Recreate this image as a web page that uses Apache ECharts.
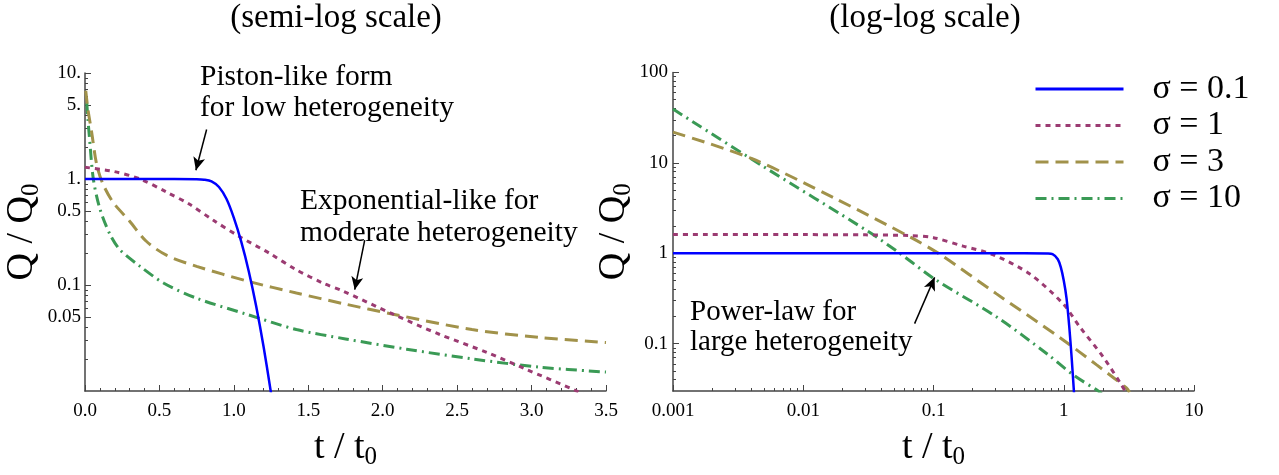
<!DOCTYPE html>
<html><head><meta charset="utf-8">
<script src="https://cdn.jsdelivr.net/npm/echarts@6/dist/echarts.min.js"></script>
<style>html,body{margin:0;padding:0;background:#fff}#c{width:1279px;height:475px}</style>
</head><body><div id="c"></div>
<script>
const FONT = '"Liberation Serif", "Times New Roman", serif';
const seriesNames = ['σ = 0.1', 'σ = 1', 'σ = 3', 'σ = 10'];
const seriesColors = ['#0000ff', '#9b3b72', '#a1924a', '#3a9a55'];

// Left panel (semi-log): [t/t0, Q/Q0]
const leftS01 = [[0,1.0],[0.3,1.0],[0.6,1.0],[0.75,0.995],[0.8,0.985],[0.85,0.95],[0.9,0.84],[0.95,0.65],[1.0,0.43],[1.05,0.255],[1.1,0.135],[1.15,0.063],[1.2,0.026],[1.25,0.0095]];
const leftS1 = [[0,1.29],[0.19,1.18],[0.37,1.0],[0.55,0.75],[0.7,0.58],[0.86,0.41],[1.04,0.285],[1.24,0.199],[1.42,0.139],[1.6,0.104],[1.73,0.088],[2.07,0.053],[2.38,0.0343],[2.7,0.0231],[2.96,0.0161],[3.29,0.0102],[3.35,0.0093]];
const leftS3 = [[0.005,6.8],[0.02,4.5],[0.045,2.75],[0.078,1.38],[0.12,0.9],[0.19,0.6],[0.3,0.4],[0.41,0.26],[0.55,0.19],[0.75,0.15],[1.1,0.108],[1.42,0.084],[1.75,0.066],[2.07,0.053],[2.6,0.038],[3.05,0.032],[3.5,0.0287]];
const leftS10 = [[0.012,5.2],[0.02,3.6],[0.029,2.55],[0.056,1.0],[0.1,0.525],[0.168,0.3],[0.235,0.215],[0.37,0.15],[0.53,0.104],[0.75,0.075],[1.085,0.053],[1.42,0.038],[1.75,0.031],[2.16,0.0248],[2.61,0.020],[3.05,0.0168],[3.5,0.0151]];

// Right panel (log-log): [t/t0, Q/Q0]
const rightS01 = [[0.001,1],[0.1,1],[0.5,1],[0.75,0.995],[0.82,0.98],[0.9,0.86],[0.95,0.7],[1.0,0.5],[1.05,0.32],[1.1,0.16],[1.15,0.07],[1.2,0.028]];
const rightS1 = [[0.001,1.61],[0.01,1.61],[0.03,1.6],[0.066,1.57],[0.1,1.49],[0.169,1.2],[0.285,0.97],[0.55,0.589],[0.99,0.276],[1.33,0.153],[2.0,0.072],[2.77,0.0352],[3.0,0.029]];
const rightS3 = [[0.001,21.9],[0.004,11.2],[0.0174,4.07],[0.0675,1.49],[0.112,0.975],[0.305,0.356],[0.99,0.11],[1.79,0.0583],[3.03,0.0324],[3.2,0.029]];
const rightS10 = [[0.001,39.4],[0.00476,9.44],[0.0314,1.75],[0.0565,0.975],[0.102,0.519],[0.305,0.198],[0.738,0.078],[1.18,0.0453],[1.84,0.03],[1.95,0.028]];

// Tick values and labels
const leftXTicks = [0,0.5,1,1.5,2,2.5,3,3.5];
const leftXLabels = ['0.0','0.5','1.0','1.5','2.0','2.5','3.0','3.5'];
const leftYTicks = [0.05,0.1,0.5,1,5,10];
const leftYLabels = ['0.05','0.1','0.5','1.','5.','10.'];
const leftYMinor = [0.02,0.03,0.04,0.06,0.07,0.08,0.09,0.2,0.3,0.4,0.6,0.7,0.8,0.9,2,3,4,6,7,8,9];
const rightXTicks = [0.001,0.01,0.1,1,10];
const rightXLabels = ['0.001','0.01','0.1','1','10'];
const rightXMinor = [0.002,0.003,0.004,0.005,0.006,0.007,0.008,0.009,0.02,0.03,0.04,0.05,0.06,0.07,0.08,0.09,0.2,0.3,0.4,0.5,0.6,0.7,0.8,0.9,2,3,4,5,6,7,8,9];
const rightYTicks = [0.1,1,10,100];
const rightYLabels = ['0.1','1','10','100'];
const rightYMinor = [0.04,0.05,0.06,0.07,0.08,0.09,0.2,0.3,0.4,0.5,0.6,0.7,0.8,0.9,2,3,4,5,6,7,8,9,20,30,40,50,60,70,80,90];

// Annotation arrows: [from, to] in data coordinates
const leftArrows = [[[0.817,2.93],[0.745,1.21]], [[1.879,0.265],[1.812,0.0903]]];
const rightArrows = [[[0.0716,0.167],[0.102,0.542]]];

const dashStyles = ['solid', [5,5], [13,7], [11,5,2,5]];
const lineWidths = [2.5, 3, 3, 3];

function lookup(ticks, labels) {
  return function (v) {
    for (let i = 0; i < ticks.length; i++) {
      if (ticks[i] === v || Math.abs(ticks[i] - v) <= 1e-6 * Math.abs(ticks[i])) return labels[i];
    }
    return '';
  };
}
const AX = '#444';
const labelStyle = {fontFamily: FONT, fontSize: 19, color: '#000'};
const nameRich = {
  m: {fontFamily: FONT, fontSize: 38, lineHeight: 44, color: '#000'},
  s: {fontFamily: FONT, fontSize: 25, lineHeight: 25, verticalAlign: 'bottom', color: '#000'}
};
function mainAxisBase() {
  return {
    axisLine: {show: true, lineStyle: {color: AX, width: 1.5}},
    splitLine: {show: false},
    axisTick: {show: true, inside: true, length: 6, lineStyle: {color: AX, width: 1}},
    axisLabel: Object.assign({}, labelStyle)
  };
}
function minorAxis(gridIndex, type, min, max, pos, vals) {
  return {
    gridIndex, type, min, max, position: pos, logBase: 10,
    axisLine: {show: false}, splitLine: {show: false},
    axisLabel: {show: false},
    axisTick: {show: true, inside: true, length: 3, customValues: vals, lineStyle: {color: AX, width: 1}}
  };
}

const xAxis = [
  Object.assign(mainAxisBase(), {
    gridIndex: 0, type: 'value', min: 0, max: 3.5, interval: 0.5, position: 'bottom',
    minorTick: {show: true, splitNumber: 5, length: 3, lineStyle: {color: AX, width: 1}},
    axisLabel: Object.assign({}, labelStyle, {margin: 11, formatter: lookup(leftXTicks, leftXLabels)}),
    name: '{m|t / t}{s|0}', nameLocation: 'middle', nameGap: 35, nameTextStyle: {rich: nameRich}
  }),
  Object.assign(mainAxisBase(), {
    gridIndex: 1, type: 'log', logBase: 10, min: 0.001, max: 10, position: 'bottom',
    axisTick: {show: true, inside: true, length: 6, customValues: rightXTicks, lineStyle: {color: AX, width: 1}},
    axisLabel: Object.assign({}, labelStyle, {margin: 11, customValues: rightXTicks, formatter: lookup(rightXTicks, rightXLabels)}),
    name: '{m|t / t}{s|0}', nameLocation: 'middle', nameGap: 35, nameTextStyle: {rich: nameRich}
  }),
  minorAxis(1, 'log', 0.001, 10, 'bottom', rightXMinor)
];
const yAxis = [
  Object.assign(mainAxisBase(), {
    gridIndex: 0, type: 'log', logBase: 10, min: 0.01, max: 10, position: 'left',
    axisTick: {show: true, inside: true, length: 6, customValues: leftYTicks, lineStyle: {color: AX, width: 1}},
    axisLabel: Object.assign({}, labelStyle, {margin: 4, customValues: leftYTicks, formatter: lookup(leftYTicks, leftYLabels)}),
    name: '{m|Q / Q}{s|0}', nameLocation: 'middle', nameGap: 30, nameRotate: 90, nameTextStyle: {rich: nameRich}
  }),
  minorAxis(0, 'log', 0.01, 10, 'left', leftYMinor),
  Object.assign(mainAxisBase(), {
    gridIndex: 1, type: 'log', logBase: 10, min: 0.03, max: 100, position: 'left',
    axisTick: {show: true, inside: true, length: 6, customValues: rightYTicks, lineStyle: {color: AX, width: 1}},
    axisLabel: Object.assign({}, labelStyle, {margin: 5, customValues: rightYTicks, formatter: lookup(rightYTicks, rightYLabels)}),
    name: '{m|Q / Q}{s|0}', nameLocation: 'middle', nameGap: 29, nameRotate: 90, nameTextStyle: {rich: nameRich}
  }),
  minorAxis(1, 'log', 0.03, 100, 'left', rightYMinor)
];

function arrowMarkLine(arrows) {
  return {
    silent: true, symbol: ['none', 'arrow'], symbolSize: [9, 13], animation: false,
    label: {show: false}, emphasis: {disabled: true},
    lineStyle: {color: '#000', width: 1.5, type: 'solid'}, itemStyle: {color: '#000'},
    data: arrows.map(a => [{coord: a[0]}, {coord: a[1]}])
  };
}
function mk(i, data, xi, yi, extra) {
  return Object.assign({
    type: 'line', name: seriesNames[i], data, xAxisIndex: xi, yAxisIndex: yi,
    showSymbol: false, symbol: 'none', smooth: 0.3, clip: true,
    color: seriesColors[i],
    lineStyle: {color: seriesColors[i], width: lineWidths[i], type: dashStyles[i]},
    emphasis: {disabled: true}, z: 10 - i
  }, extra || {});
}
const series = [
  mk(0, leftS01, 0, 0, {markLine: arrowMarkLine(leftArrows)}),
  mk(1, leftS1, 0, 0), mk(2, leftS3, 0, 0), mk(3, leftS10, 0, 0),
  mk(0, rightS01, 1, 2, {markLine: arrowMarkLine(rightArrows)}),
  mk(1, rightS1, 1, 2), mk(2, rightS3, 1, 2), mk(3, rightS10, 1, 2)
];

const chart = echarts.init(document.getElementById('c'), null, {renderer: 'canvas'});
chart.setOption({
  animation: false,
  backgroundColor: '#fff',
  grid: [
    {left: 85, top: 73, width: 521, height: 321},
    {left: 673, top: 72.5, width: 521, height: 320.5}
  ],
  xAxis, yAxis, series,
  legend: {
    data: seriesNames, orient: 'vertical', left: 1034, top: 72, padding: 0,
    itemWidth: 88, itemHeight: 14, itemGap: 2.5, selectedMode: false,
    itemStyle: {opacity: 0},
    lineStyle: {width: 3},
    textStyle: {fontFamily: FONT, fontSize: 34, lineHeight: 32, color: '#000', padding: [0, 0, 0, 24]}
  },
  graphic: [
    {type: 'text', x: 336, y: 18, silent: true, style: {text: '(semi-log scale)', fontFamily: FONT, fontSize: 33, fill: '#000', align: 'center', verticalAlign: 'middle'}},
    {type: 'text', x: 925, y: 18, silent: true, style: {text: '(log-log scale)', fontFamily: FONT, fontSize: 33, fill: '#000', align: 'center', verticalAlign: 'middle'}},
    {type: 'text', x: 200, y: 92.5, silent: true, style: {text: 'Piston-like form\nfor low heterogeneity', fontFamily: FONT, fontSize: 29.5, lineHeight: 31, fill: '#000', align: 'left', verticalAlign: 'middle'}},
    {type: 'text', x: 300, y: 217, silent: true, style: {text: 'Exponential-like for\nmoderate heterogeneity', fontFamily: FONT, fontSize: 29.5, lineHeight: 32, fill: '#000', align: 'left', verticalAlign: 'middle'}},
    {type: 'text', x: 690, y: 327, silent: true, style: {text: 'Power-law for\nlarge heterogeneity', fontFamily: FONT, fontSize: 29, lineHeight: 30, fill: '#000', align: 'left', verticalAlign: 'middle'}}
  ]
});
</script></body></html>
